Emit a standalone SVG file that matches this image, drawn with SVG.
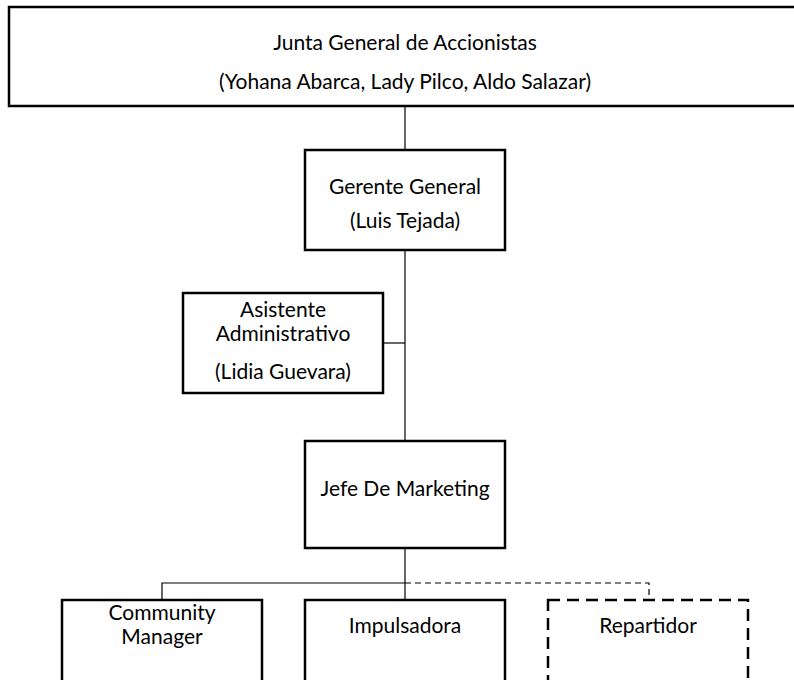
<svg xmlns="http://www.w3.org/2000/svg" width="794" height="680" viewBox="0 0 794 680">
  <style>
    .box { fill: #ffffff; stroke: #000000; stroke-width: 2.5; }
    .box-dashed { fill: #ffffff; stroke: #000000; stroke-width: 2.5; stroke-dasharray: 12 7; }
    .link { fill: none; stroke: #000000; stroke-width: 1.2; }
    .link-dashed { fill: none; stroke: #000000; stroke-width: 1.2; stroke-dasharray: 6 4; }
    text { font-family: Lato, "Open Sans", "Liberation Sans", sans-serif; font-size: 21px; fill: #000000; text-anchor: middle; }
  </style>
  <rect width="794" height="680" fill="#ffffff"/>

  <!-- connectors -->
  <g id="connectors">
    <path class="link" d="M405 106 V150"/>
    <path class="link" d="M405 250 V441"/>
    <path class="link" d="M383 343 H405"/>
    <path class="link" d="M405 548 V600"/>
    <path class="link" d="M162 600 V583 H405"/>
    <path class="link-dashed" d="M405 583 H649 V600"/>
  </g>

  <g id="junta">
    <rect class="box" x="9" y="7" width="800" height="99"/>
    <text x="405" y="50">Junta General de Accionistas</text>
    <text x="405" y="89">(Yohana Abarca, Lady Pilco, Aldo Salazar)</text>
  </g>

  <g id="gerente">
    <rect class="box" x="305" y="150" width="200" height="100"/>
    <text x="405" y="194">Gerente General</text>
    <text x="405" y="228">(Luis Tejada)</text>
  </g>

  <g id="asistente">
    <rect class="box" x="183" y="293" width="200" height="100"/>
    <text x="283" y="317">Asistente</text>
    <text x="283" y="341">Administrativo</text>
    <text x="283" y="379">(Lidia Guevara)</text>
  </g>

  <g id="jefe-marketing">
    <rect class="box" x="305" y="441" width="200" height="107"/>
    <text x="405" y="496">Jefe De Marketing</text>
  </g>

  <g id="community-manager">
    <rect class="box" x="62" y="600" width="200" height="100"/>
    <text x="162" y="620">Community</text>
    <text x="162" y="644">Manager</text>
  </g>

  <g id="impulsadora">
    <rect class="box" x="305" y="600" width="200" height="100"/>
    <text x="405" y="633">Impulsadora</text>
  </g>

  <g id="repartidor">
    <rect class="box-dashed" x="548" y="600" width="200" height="100"/>
    <text x="648" y="633">Repartidor</text>
  </g>
</svg>
